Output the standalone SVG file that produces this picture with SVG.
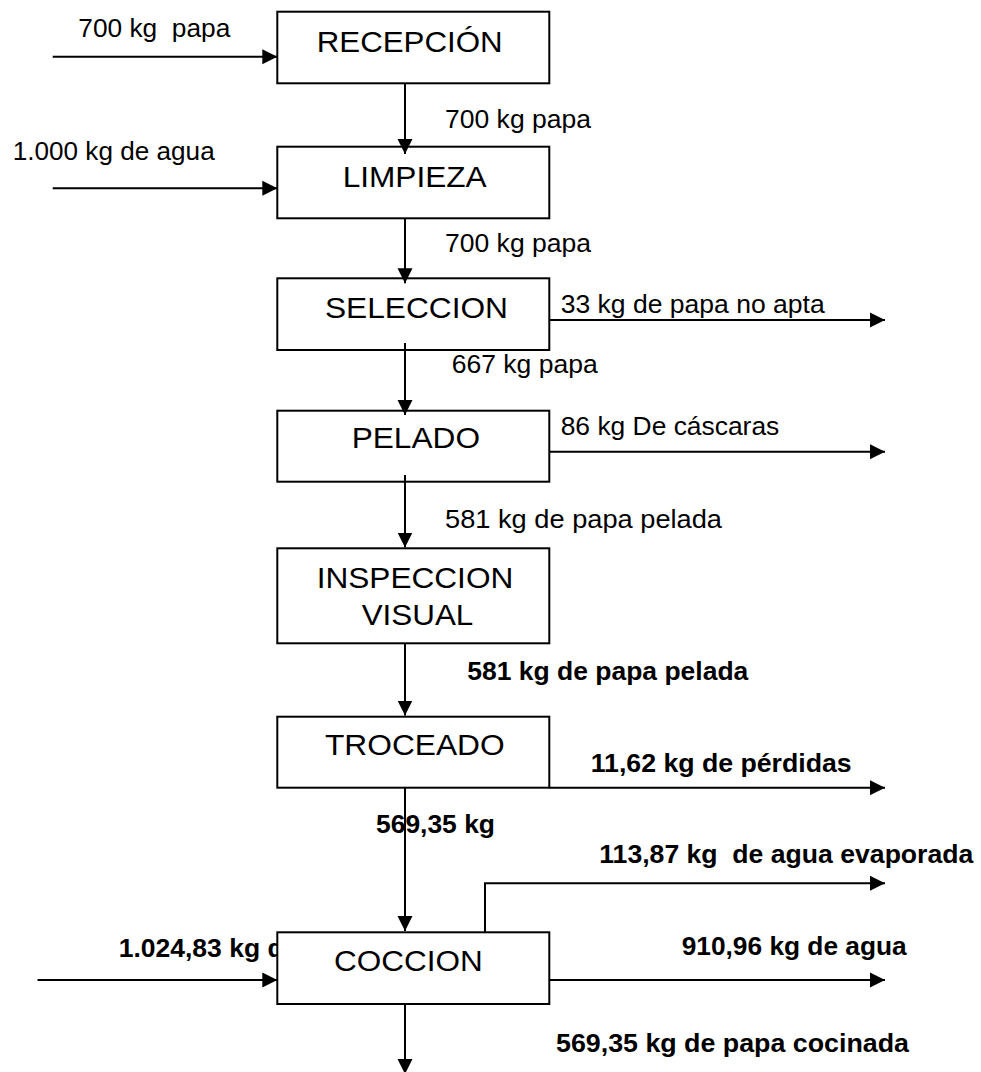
<svg xmlns="http://www.w3.org/2000/svg" width="981" height="1072" viewBox="0 0 981 1072">
  <style>
    .box { fill: #fff; stroke: #000; stroke-width: 2; }
    .step { font-family: "Liberation Sans", Arial, sans-serif; font-size: 30px; fill: #000; }
    .lbl { font-family: "Liberation Sans", Arial, sans-serif; font-size: 25px; fill: #000; white-space: pre; }
    .b { font-weight: bold; }
    .flow { fill: none; stroke: #000; stroke-width: 2; marker-end: url(#head); }
  </style>
  <defs>
    <marker id="head" markerUnits="userSpaceOnUse" markerWidth="16" markerHeight="16" viewBox="0 0 16 16" refX="15" refY="8" orient="auto">
      <path d="M0,0.5 L15,8 L0,15.5 Z" fill="#000"/>
    </marker>
  </defs>

  <rect width="981" height="1072" fill="#fff"/>

  <!-- stream labels -->
  <g id="labels">
    <text class="lbl" x="78.3" y="36.7" textLength="152" lengthAdjust="spacingAndGlyphs">700 kg  papa</text>
    <text class="lbl" x="12.7" y="160" textLength="202" lengthAdjust="spacingAndGlyphs">1.000 kg de agua</text>
    <text class="lbl" x="445" y="128.3" textLength="146" lengthAdjust="spacingAndGlyphs">700 kg papa</text>
    <text class="lbl" x="445" y="251.7" textLength="146" lengthAdjust="spacingAndGlyphs">700 kg papa</text>
    <text class="lbl" x="560.7" y="313.3" textLength="264" lengthAdjust="spacingAndGlyphs">33 kg de papa no apta</text>
    <text class="lbl" x="451.7" y="373.3" textLength="146" lengthAdjust="spacingAndGlyphs">667 kg papa</text>
    <text class="lbl" x="560.7" y="435" textLength="218.6" lengthAdjust="spacingAndGlyphs">86 kg De cáscaras</text>
    <text class="lbl" x="445" y="528.3" textLength="277" lengthAdjust="spacingAndGlyphs">581 kg de papa pelada</text>
    <text class="lbl b" x="467.3" y="680" textLength="281" lengthAdjust="spacingAndGlyphs">581 kg de papa pelada</text>
    <text class="lbl b" x="590.7" y="771.7" textLength="261" lengthAdjust="spacingAndGlyphs">11,62 kg de pérdidas</text>
    <text class="lbl b" x="376" y="833.3" textLength="119" lengthAdjust="spacingAndGlyphs">569,35 kg</text>
    <text class="lbl b" x="599.3" y="863.3" textLength="374" lengthAdjust="spacingAndGlyphs">113,87 kg  de agua evaporada</text>
    <text class="lbl b" x="118.7" y="956.7" textLength="165" lengthAdjust="spacingAndGlyphs">1.024,83 kg d</text>
    <text class="lbl b" x="681.7" y="955" textLength="225" lengthAdjust="spacingAndGlyphs">910,96 kg de agua</text>
    <text class="lbl b" x="556" y="1051.7" textLength="353" lengthAdjust="spacingAndGlyphs">569,35 kg de papa cocinada</text>
  </g>

  <!-- process steps -->
  <g id="recepcion">
    <rect class="box" x="277.3" y="11.7" width="272" height="71.6"/>
    <text class="step" x="316.7" y="51.7" textLength="186" lengthAdjust="spacingAndGlyphs">RECEPCIÓN</text>
  </g>
  <g id="limpieza">
    <rect class="box" x="277.3" y="146.7" width="272" height="71.6"/>
    <text class="step" x="342.7" y="186.7" textLength="144" lengthAdjust="spacingAndGlyphs">LIMPIEZA</text>
  </g>
  <g id="seleccion">
    <rect class="box" x="277.3" y="278.3" width="272" height="71.7"/>
    <text class="step" x="325" y="318.3" textLength="183" lengthAdjust="spacingAndGlyphs">SELECCION</text>
  </g>
  <g id="pelado">
    <rect class="box" x="277.3" y="410.7" width="272" height="71"/>
    <text class="step" x="351.7" y="448.3" textLength="128.3" lengthAdjust="spacingAndGlyphs">PELADO</text>
  </g>
  <g id="inspeccion-visual">
    <rect class="box" x="277.3" y="548.3" width="272" height="95"/>
    <text class="step" x="316.7" y="587.7" textLength="196.6" lengthAdjust="spacingAndGlyphs">INSPECCION</text>
    <text class="step" x="361.7" y="625" textLength="111.6" lengthAdjust="spacingAndGlyphs">VISUAL</text>
  </g>
  <g id="troceado">
    <rect class="box" x="277.3" y="716.7" width="272" height="71"/>
    <text class="step" x="325" y="755" textLength="179.6" lengthAdjust="spacingAndGlyphs">TROCEADO</text>
  </g>
  <g id="coccion">
    <rect class="box" x="277.3" y="932.3" width="272" height="71.7"/>
    <text class="step" x="334" y="970.7" textLength="148.7" lengthAdjust="spacingAndGlyphs">COCCION</text>
  </g>

  <!-- flows between steps -->
  <g id="connectors">
    <path class="flow" d="M52.7,56.7 H277.3"/>
    <path class="flow" d="M52.7,188.3 H277.3"/>
    <path class="flow" d="M405,83.3 V154"/>
    <path class="flow" d="M405,218.3 V283.3"/>
    <path class="flow" d="M549.3,320 H885"/>
    <path class="flow" d="M405,343 V415"/>
    <path class="flow" d="M549.3,451.7 H885"/>
    <path class="flow" d="M405,475 V547.5"/>
    <path class="flow" d="M405,643.3 V715.5"/>
    <path class="flow" d="M549.3,787.7 H885"/>
    <path class="flow" d="M405,787.7 V931"/>
    <path class="flow" d="M485,932.3 V883.3 H885"/>
    <path class="flow" d="M549.3,980 H885"/>
    <path class="flow" d="M37.5,980 H277.3"/>
    <path class="flow" d="M405,1004 V1074"/>
  </g>
</svg>
